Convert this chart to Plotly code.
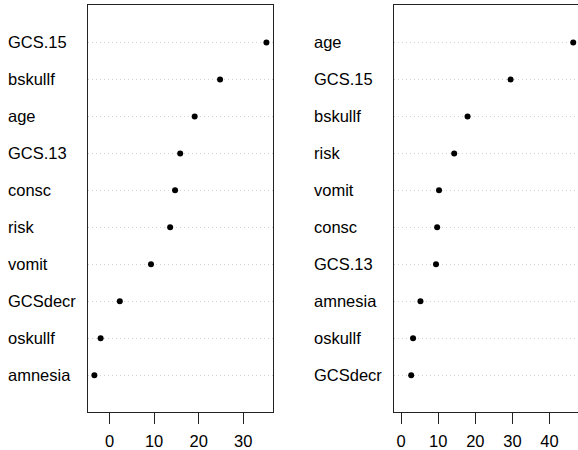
import plotly.graph_objects as go

# Data (rows listed bottom -> top, as in the dot charts)
left_labels = ["amnesia", "oskullf", "GCSdecr", "vomit", "risk", "consc", "GCS.13", "age", "bskullf", "GCS.15"]
left_values = [-3.4, -2.0, 2.3, 9.3, 13.6, 14.7, 15.85, 19.1, 24.8, 35.2]
right_labels = ["GCSdecr", "oskullf", "amnesia", "GCS.13", "consc", "vomit", "risk", "bskullf", "GCS.15", "age"]
right_values = [2.7, 3.2, 5.2, 9.4, 9.7, 10.2, 14.3, 17.9, 29.5, 46.4]
left_ticks = [0, 10, 20, 30]
right_ticks = [0, 10, 20, 30, 40]

W, H = 578, 450
FONT = "Liberation Sans, Arial, Helvetica, sans-serif"
FS = 16.5

rows_l = list(range(1, len(left_values) + 1))
rows_r = list(range(1, len(right_values) + 1))

# x ranges like R (4% padding); right panel uses xmin=0 (Gini) and is clipped by the page edge
lmin, lmax = min(left_values), max(left_values)
lpad = 0.04 * (lmax - lmin)
lrange = [lmin - lpad, lmax + lpad]

rmin, rmax = 0, max(right_values)
rpad = 0.04 * (rmax - rmin)
rfull = [rmin - rpad, rmax + rpad]

# pixel geometry of the panels
l_px = (87.5, 273.3)
r_left_px = 394.3
panel_w = l_px[1] - l_px[0]
r_visible = (W - r_left_px) / panel_w
rrange = [rfull[0], rfull[0] + r_visible * (rfull[1] - rfull[0])]

fig = go.Figure()
fig.add_trace(go.Scatter(x=left_values, y=rows_l, mode="markers",
                         marker=dict(color="black", size=6), xaxis="x", yaxis="y",
                         showlegend=False, hoverinfo="skip", cliponaxis=False))
fig.add_trace(go.Scatter(x=right_values, y=rows_r, mode="markers",
                         marker=dict(color="black", size=6), xaxis="x2", yaxis="y2",
                         showlegend=False, hoverinfo="skip", cliponaxis=False))

ydom = [1 - 415 / H, 1 - 5.5 / H]

xcommon = dict(showline=True, linecolor="#222", linewidth=1, ticks="outside", ticklen=11,
               tickcolor="#222", tickwidth=1, showgrid=False, zeroline=False,
               ticklabelstandoff=3,
               tickfont=dict(family=FONT, size=FS, color="black"), fixedrange=True)
ycommon = dict(range=[0, len(rows_l) + 1], tickvals=rows_l, showticklabels=False, ticks="",
               showgrid=True, gridcolor="#d3d3d3", griddash="1px,3px", gridwidth=1,
               zeroline=False, showline=True, linecolor="#222", linewidth=1, domain=ydom,
               fixedrange=True)

fig.update_layout(
    width=W, height=H,
    margin=dict(l=0, r=0, t=0, b=0),
    paper_bgcolor="white", plot_bgcolor="white",
    xaxis=dict(domain=[l_px[0] / W, l_px[1] / W], range=lrange, tickvals=left_ticks,
               mirror=True, anchor="y", **xcommon),
    yaxis=dict(anchor="x", mirror=True, **ycommon),
    xaxis2=dict(domain=[r_left_px / W, 1.0], range=rrange, tickvals=right_ticks,
                mirror=True, anchor="y2", **xcommon),
    yaxis2=dict(anchor="x2", mirror=False, **ycommon),
)

annots = []
for lab, r in zip(left_labels, rows_l):
    annots.append(dict(text=lab, x=5.5 / W, xref="paper", xanchor="left", y=r, yref="y",
                       yanchor="middle", showarrow=False,
                       font=dict(family=FONT, size=FS, color="black")))
for lab, r in zip(right_labels, rows_r):
    annots.append(dict(text=lab, x=312.2 / W, xref="paper", xanchor="left", y=r, yref="y2",
                       yanchor="middle", showarrow=False,
                       font=dict(family=FONT, size=FS, color="black")))
fig.update_layout(annotations=annots)

fig.write_html("out.html", config={"displayModeBar": False},
               post_script="document.body.style.margin='0';document.body.style.overflow='hidden';")
